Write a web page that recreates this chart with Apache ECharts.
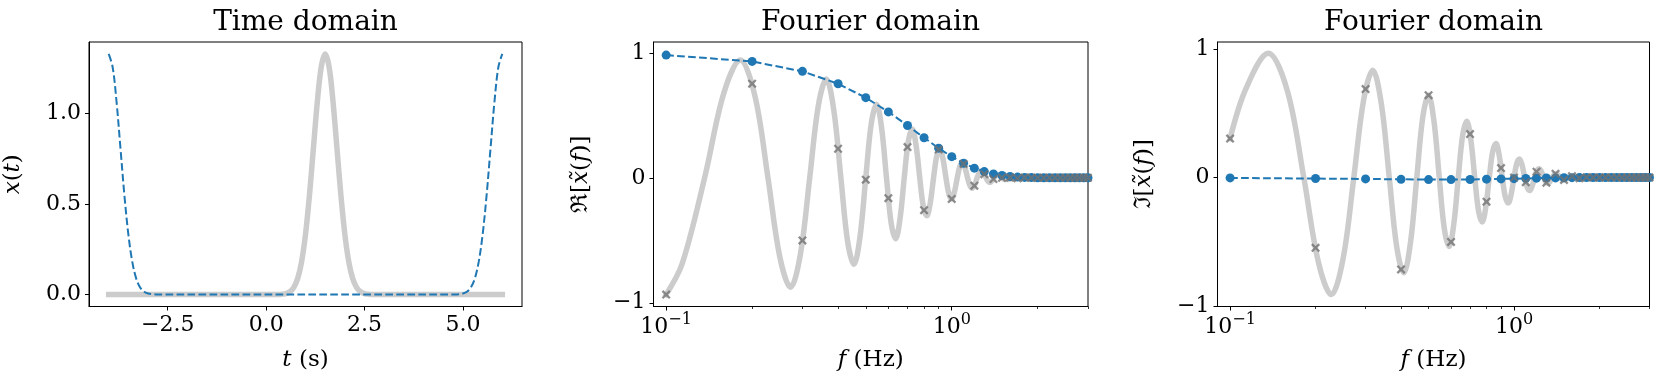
<!DOCTYPE html>
<html><head><meta charset="utf-8">
<script src="https://cdn.jsdelivr.net/npm/echarts@6/dist/echarts.min.js"></script>
<style>html,body{margin:0;padding:0;background:#fff}#c{width:1660px;height:386px}</style>
</head><body><div id="c"></div>
<script>
// ---------- Time domain ----------
const tGray = [-4,0.3,0.4,0.5,0.6,0.7,0.8,0.9,1.0,1.1,1.2,1.3,1.4,1.5,1.6,1.7,1.8,1.9,2.0,2.1,2.2,2.3,2.4,2.5,2.6,2.7,6];
const xGray = [0,0.0004,0.0016,0.0051,0.0148,0.0380,0.0874,0.1800,0.3316,0.5467,0.8066,1.0648,1.2579,1.3298,1.2579,1.0648,0.8066,0.5467,0.3316,0.1800,0.0874,0.0380,0.0148,0.0051,0.0016,0.0004,0];
const tBlue = [-4,-3.9,-3.8,-3.7,-3.6,-3.5,-3.4,-3.3,-3.2,-3.1,-3.0,-2.9,-2.8,4.8,4.9,5.0,5.1,5.2,5.3,5.4,5.5,5.6,5.7,5.8,5.9,6.0];
const xBlue = [1.3298,1.2579,1.0648,0.8066,0.5467,0.3316,0.1800,0.0874,0.0380,0.0148,0.0051,0.0016,0.0004,0.0004,0.0016,0.0051,0.0148,0.0380,0.0874,0.1800,0.3316,0.5467,0.8066,1.0648,1.2579,1.3298];

// ---------- Fourier domain: continuous curve ----------
const fCurve = [0.1,0.11364,0.13636,0.15909,0.18182,0.20455,0.22727,0.25,0.27273,0.29545,0.31818,0.34091,0.36364,0.38636,0.40909,0.43182,0.45455,0.47727,0.5,0.52273,0.54545,0.56818,0.59091,0.61364,0.63636,0.65909,0.68182,0.70455,0.72727,0.75,0.77273,0.79545,0.81818,0.84091,0.86364,0.88636,0.90909,0.93182,0.95455,0.97727,1.0,1.02273,1.04545,1.06818,1.09091,1.11364,1.13636,1.15909,1.18182,1.20455,1.22727,1.25,1.27273,1.29545,1.31818,1.34091,1.36364,1.38636,1.40909,1.43182,1.45455,1.47727,1.5,1.52273,1.54545,1.7,2.0,2.5,3.0];
const reCurve = [-0.9343,-0.6911,0,0.6760,0.9430,0.6565,0,-0.6328,-0.8762,-0.6055,0,0.5752,0.7906,0.5424,0,-0.5077,-0.6928,-0.4718,0,0.4352,0.5895,0.3985,0,-0.3622,-0.4871,-0.3268,0,0.2928,0.3908,0.2603,0,-0.2298,-0.3044,-0.2013,0,0.1751,0.2303,0.1512,0,-0.1296,-0.1692,-0.1103,0,0.0932,0.1207,0.0781,0,-0.0650,-0.0836,-0.0537,0,0.0440,0.0563,0.0359,0,-0.0290,-0.0368,-0.0233,0,0.0185,0.0233,0.0147,0,-0.0115,-0.0144,0,0,0,0];
const imCurve = [0.3036,0.6911,0.9675,0.6760,0,-0.6565,-0.9123,-0.6328,0,0.6055,0.8354,0.5752,0,-0.5424,-0.7428,-0.5077,0,0.4718,0.6414,0.4352,0,-0.3985,-0.5378,-0.3622,0,0.3268,0.4379,0.2928,0,-0.2603,-0.3462,-0.2298,0,0.2013,0.2658,0.1751,0,-0.1512,-0.1982,-0.1296,0,0.1103,0.1435,0.0932,0,-0.0781,-0.1009,-0.0650,0,0.0537,0.0689,0.0440,0,-0.0359,-0.0457,-0.0290,0,0.0233,0.0294,0.0185,0,-0.0147,-0.0184,-0.0115,0,0,0,0,0];

// ---------- Fourier domain: sampled bins ----------
const fBins = [0.1,0.2,0.3,0.4,0.5,0.6,0.7,0.8,0.9,1.0,1.1,1.2,1.3,1.4,1.5,1.6,1.7,1.8,1.9,2.0,2.1,2.2,2.3,2.4,2.5,2.6,2.7,2.8,2.9,3.0];
const reBlue = [0.9824,0.9314,0.8522,0.7526,0.6414,0.5275,0.4188,0.3208,0.2372,0.1692,0.1166,0.0774,0.0497,0.0308,0.0184,0.0106,0.0059,0.0032,0.0016,0.0008,0.0004,0.0002,0.0001,0,0,0,0,0,0,0];
const imBlue = [-0.003,-0.008,-0.011,-0.014,-0.016,-0.016,-0.015,-0.013,-0.011,-0.009,-0.007,-0.005,-0.004,-0.003,-0.002,-0.001,0,0,0,0,0,0,0,0,0,0,0,0,0,0];
const reCross = [-0.9344,0.7535,-0.5009,0.2326,-0.015,-0.1630,0.2462,-0.2595,0.2256,-0.1692,0.1109,-0.0626,0.0292,-0.0095,0,0.0033,-0.0035,0.0026,0,0,0,0,0,0,0,0,0,0,0,0];
const imCross = [0.3036,-0.5475,0.6894,-0.7158,0.6414,-0.5017,0.3388,-0.1886,0.0733,0,-0.0360,0.0455,-0.0402,0.0293,-0.0184,0.0101,-0.0048,0.0019,0,0,0,0,0,0,0,0,0,0,0,0];

// ---------- ticks ----------
const timeXTicks = [-2.5, 0, 2.5, 5];
const timeYTicks = [0, 0.5, 1.0];
const freqMajorTicks = [0.1, 1];
const freqMinorTicks = [0.2,0.3,0.4,0.5,0.6,0.7,0.8,0.9,2,3];
const fourierYTicks = [-1, 0, 1];

const FONT = 'DejaVu Serif';
const BLUE = '#1f77b4';
const LGRAY = '#cccccc';
const XGRAY = '#727272';
const pairs = (a, b) => a.map((v, i) => [v, b[i]]);
const minus = s => String(s).replace('-', '\u2212');
const XPATH = 'path://M0,1.8L1.8,0L10,8.2L8.2,10Z M8.2,0L10,1.8L1.8,10L0,8.2Z';

const tickFont = {fontFamily: FONT, fontSize: 22, color: '#000'};
const nameStyle = {fontFamily: FONT, fontSize: 23, color: '#000',
  rich: {i: {fontFamily: FONT, fontSize: 23, fontStyle: 'italic', color: '#000'}}};

const gridBase = {show: true, borderColor: '#000', borderWidth: 1, backgroundColor: 'transparent', containLabel: false};
const G = [
  Object.assign({left: 89, top: 42, width: 433, height: 264.5}, gridBase),
  Object.assign({left: 653.5, top: 42, width: 434.5, height: 264.5}, gridBase),
  Object.assign({left: 1217.5, top: 42, width: 432, height: 264.5}, gridBase)
];

function valueAxis(gi, min, max, ticks, fmt, extra) {
  return Object.assign({
    gridIndex: gi, type: 'value', min: min, max: max,
    axisLine: {show: true, onZero: false, lineStyle: {color: '#000', width: 1}},
    axisTick: {show: true, length: 4, customValues: ticks, lineStyle: {color: '#000', width: 1}},
    axisLabel: Object.assign({customValues: ticks, formatter: fmt, margin: 8}, tickFont),
    splitLine: {show: false}
  }, extra || {});
}
function logFmt(v) {
  const e = Math.round(Math.log10(v));
  return '{b|10}{s|' + minus(e) + '}';
}
function logAxes(gi) {
  return [{
    gridIndex: gi, type: 'log', logBase: 10, min: 0.0903, max: 3, position: 'bottom',
    axisLine: {show: true, onZero: false, lineStyle: {color: '#000', width: 1}},
    axisTick: {show: true, length: 4, customValues: freqMajorTicks, lineStyle: {color: '#000', width: 1}},
    axisLabel: {customValues: freqMajorTicks, formatter: logFmt, margin: 5,
      rich: {
        b: {fontFamily: FONT, fontSize: 22, color: '#000', verticalAlign: 'bottom', padding: [5, 0, 0, 0]},
        s: {fontFamily: FONT, fontSize: 16, color: '#000', verticalAlign: 'top'}
      }},
    splitLine: {show: false},
    name: '{i|f} (Hz)', nameLocation: 'middle', nameGap: 42, nameTextStyle: nameStyle
  }, {
    gridIndex: gi, type: 'log', logBase: 10, min: 0.0903, max: 3, position: 'bottom',
    axisLine: {show: false, onZero: false},
    axisTick: {show: true, length: 2.5, customValues: freqMinorTicks, lineStyle: {color: '#000', width: 0.8}},
    axisLabel: {show: false},
    splitLine: {show: false}
  }];
}

const fmt1 = v => minus(Number(v).toFixed(1));
const fmt0 = v => minus(Math.round(v));

const option = {
  animation: false,
  textStyle: {fontFamily: FONT},
  grid: G,
  graphic: [
    {type: 'text', x: 305.5, y: 23, style: {text: 'Time domain', fontFamily: FONT, fontSize: 28, fill: '#000', align: 'center', verticalAlign: 'middle'}},
    {type: 'text', x: 870.5, y: 23, style: {text: 'Fourier domain', fontFamily: FONT, fontSize: 28, fill: '#000', align: 'center', verticalAlign: 'middle'}},
    {type: 'text', x: 1433.5, y: 23, style: {text: 'Fourier domain', fontFamily: FONT, fontSize: 28, fill: '#000', align: 'center', verticalAlign: 'middle'}}
  ],
  xAxis: [
    valueAxis(0, -4.5, 6.5, timeXTicks, fmt1, {position: 'bottom', name: '{i|t} (s)', nameLocation: 'middle', nameGap: 42, nameTextStyle: nameStyle})
  ].concat(logAxes(1)).concat(logAxes(2)),
  yAxis: [
    valueAxis(0, -0.0665, 1.396, timeYTicks, fmt1, {position: 'left', name: '{i|x}({i|t})', nameLocation: 'middle', nameRotate: 90, nameGap: 64, nameTextStyle: nameStyle}),
    valueAxis(1, -1.03, 1.087, fourierYTicks, fmt0, {position: 'left', name: '\u211C[{i|x\u0303}({i|f})]', nameLocation: 'middle', nameRotate: 90, nameGap: 61, nameTextStyle: nameStyle}),
    valueAxis(2, -1.005, 1.056, fourierYTicks, fmt0, {position: 'left', name: '\u2111[{i|x\u0303}({i|f})]', nameLocation: 'middle', nameRotate: 90, nameGap: 62, nameTextStyle: nameStyle})
  ],
  series: [
    {type: 'line', xAxisIndex: 0, yAxisIndex: 0, data: pairs(tGray, xGray), symbol: 'none', smooth: 0.35, z: 2,
      lineStyle: {color: LGRAY, width: 5.5, cap: 'square'}},
    {type: 'line', xAxisIndex: 0, yAxisIndex: 0, data: pairs(tBlue, xBlue), symbol: 'none', smooth: 0.35, z: 3,
      lineStyle: {color: BLUE, width: 2, type: [7.7, 3.3]}},

    {type: 'line', xAxisIndex: 1, yAxisIndex: 1, data: pairs(fCurve, reCurve), symbol: 'none', smooth: 0.35, z: 2,
      lineStyle: {color: LGRAY, width: 5.5, cap: 'square'}},
    {type: 'line', xAxisIndex: 1, yAxisIndex: 1, data: pairs(fBins, reBlue), symbol: 'circle', symbolSize: 9, showSymbol: true, showAllSymbol: true, z: 3,
      itemStyle: {color: BLUE}, lineStyle: {color: BLUE, width: 2, type: [7.7, 3.3]}},
    {type: 'scatter', xAxisIndex: 1, yAxisIndex: 1, data: pairs(fBins, reCross), symbol: XPATH, symbolSize: 9, z: 4,
      itemStyle: {color: XGRAY}},

    {type: 'line', xAxisIndex: 3, yAxisIndex: 2, data: pairs(fCurve, imCurve), symbol: 'none', smooth: 0.35, z: 2,
      lineStyle: {color: LGRAY, width: 5.5, cap: 'square'}},
    {type: 'line', xAxisIndex: 3, yAxisIndex: 2, data: pairs(fBins, imBlue), symbol: 'circle', symbolSize: 9, showSymbol: true, showAllSymbol: true, z: 3,
      itemStyle: {color: BLUE}, lineStyle: {color: BLUE, width: 2, type: [7.7, 3.3]}},
    {type: 'scatter', xAxisIndex: 3, yAxisIndex: 2, data: pairs(fBins, imCross), symbol: XPATH, symbolSize: 9, z: 4,
      itemStyle: {color: XGRAY}}
  ]
};
const chart = echarts.init(document.getElementById('c'), null, {renderer: 'canvas'});
chart.setOption(option);
</script>
</body></html>
